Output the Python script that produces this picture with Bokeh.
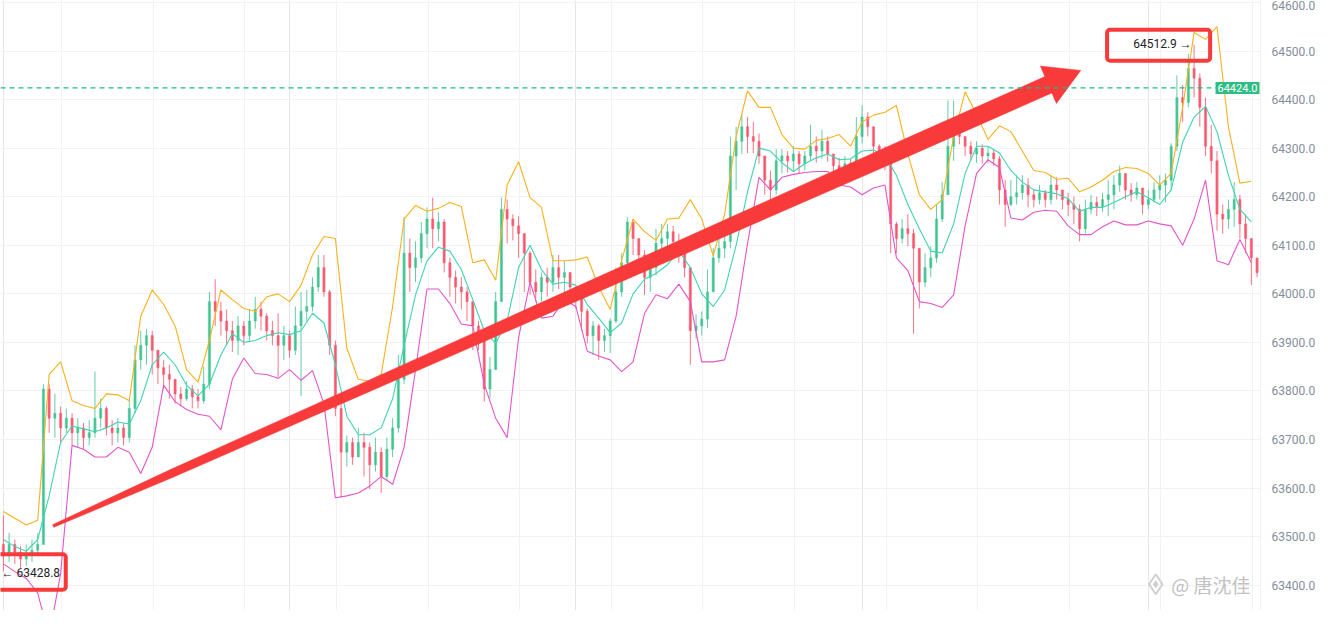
from math import hypot

from bokeh.plotting import figure
from bokeh.models import (ColumnDataSource, Range1d, FixedTicker, NumeralTickFormatter,
                          Span, Label, BoxAnnotation, Grid)
from bokeh.core.properties import value
from bokeh.embed import file_html
from bokeh.resources import INLINE

# candle closes / highs / lows (one candle per bar, opens are previous close)
first_open = 63484
closes = [
    63460, 63484, 63468, 63454, 63464, 63472, 63484, 63804, 63744, 63754,
    63724, 63744, 63714, 63724, 63704, 63714, 63744, 63764, 63724, 63714,
    63724, 63704, 63764, 63864, 63894, 63914, 63884, 63848, 63834, 63824,
    63794, 63784, 63804, 63788, 63780, 63814, 63984, 63964, 63944, 63924,
    63904, 63934, 63914, 63944, 63968, 63954, 63924, 63914, 63894, 63914,
    63884, 63934, 63964, 63974, 64014, 64054, 64004, 63894, 63764, 63674,
    63694, 63664, 63694, 63684, 63648, 63674, 63624, 63680, 63724, 63824,
    64084, 64054, 64074, 64124, 64154, 64134, 64148, 64064, 64034, 64014,
    64004, 63984, 63934, 63914, 63804, 63844, 63984, 64174, 64154, 64140,
    64124, 64084, 64024, 64004, 64034, 64024, 64054, 64034, 64044, 64014,
    63994, 63964, 63914, 63934, 63904, 63914, 63944, 64004, 64064, 64148,
    64114, 64080, 64034, 64054, 64104, 64114, 64128, 64108, 64094, 64054,
    63924, 63934, 63948, 64004, 64074, 64094, 64108, 64284, 64314, 64344,
    64324, 64314, 64284, 64234, 64214, 64274, 64284, 64274, 64288, 64268,
    64284, 64304, 64294, 64314, 64288, 64264, 64254, 64268, 64254, 64324,
    64364, 64344, 64304, 64288, 64274, 64144, 64114, 64134, 64124, 64094,
    64024, 64054, 64074, 64154, 64204, 64304, 64344, 64324, 64304, 64288,
    64300, 64284, 64290, 64278, 64214, 64184, 64200, 64208, 64224, 64204,
    64194, 64208, 64194, 64224, 64214, 64194, 64184, 64174, 64134, 64174,
    64188, 64180, 64194, 64204, 64224, 64248, 64214, 64204, 64218, 64184,
    64194, 64214, 64224, 64234, 64304, 64404, 64394, 64464, 64444, 64384,
    64304, 64274, 64164, 64154, 64174, 64194, 64144, 64114, 64074, 64044,
]
highs = [
    63544, 63508, 63494, 63480, 63484, 63494, 63508, 63814, 63814, 63794,
    63768, 63764, 63754, 63744, 63734, 63740, 63840, 63784, 63768, 63740,
    63744, 63734, 63784, 63894, 63924, 63928, 63924, 63880, 63864, 63854,
    63814, 63808, 63820, 63812, 63804, 63850, 64004, 64030, 63984, 63968,
    63944, 63954, 63944, 63968, 63994, 63984, 63960, 63944, 63960, 63934,
    63924, 63974, 64004, 64008, 64034, 64080, 64080, 64008, 63904, 63774,
    63708, 63704, 63724, 63714, 63694, 63704, 63684, 63704, 63744, 63874,
    64158, 64114, 64108, 64148, 64178, 64198, 64168, 64154, 64074, 64048,
    64034, 64014, 63960, 63944, 63854, 63870, 64004, 64198, 64194, 64164,
    64160, 64124, 64088, 64050, 64044, 64054, 64080, 64080, 64068, 64044,
    64014, 64004, 63970, 63944, 63938, 63928, 63950, 64054, 64084, 64158,
    64130, 64104, 64090, 64074, 64134, 64144, 64144, 64140, 64124, 64094,
    64030, 63958, 63964, 64050, 64094, 64118, 64124, 64324, 64344, 64370,
    64364, 64354, 64330, 64284, 64254, 64298, 64298, 64294, 64304, 64294,
    64294, 64348, 64324, 64338, 64324, 64284, 64280, 64284, 64278, 64364,
    64388, 64374, 64334, 64308, 64304, 64274, 64148, 64154, 64164, 64134,
    64094, 64084, 64098, 64184, 64230, 64398, 64398, 64348, 64324, 64314,
    64314, 64308, 64304, 64298, 64284, 64234, 64234, 64244, 64244, 64238,
    64214, 64224, 64214, 64244, 64240, 64214, 64208, 64200, 64184, 64194,
    64204, 64200, 64208, 64234, 64244, 64264, 64240, 64228, 64230, 64208,
    64214, 64230, 64244, 64248, 64310, 64450, 64430, 64494, 64512.9, 64454,
    64404, 64348, 64294, 64184, 64194, 64230, 64204, 64164, 64098, 64074,
]
lows = [
    63428.8, 63448, 63444, 63436, 63440, 63448, 63460, 63484, 63714, 63704,
    63694, 63714, 63688, 63684, 63680, 63688, 63704, 63724, 63708, 63688,
    63694, 63688, 63694, 63754, 63844, 63854, 63834, 63814, 63804, 63784,
    63774, 63768, 63780, 63764, 63764, 63774, 63804, 63934, 63914, 63894,
    63880, 63874, 63894, 63904, 63928, 63924, 63904, 63894, 63828, 63864,
    63868, 63874, 63790, 63944, 63964, 64004, 63994, 63874, 63748, 63580,
    63644, 63648, 63664, 63624, 63598, 63634, 63590, 63614, 63664, 63714,
    63814, 64004, 64024, 64064, 64094, 64094, 64108, 64044, 63994, 63980,
    63968, 63944, 63884, 63884, 63778, 63784, 63864, 63990, 64104, 64110,
    64074, 64004, 63998, 63984, 63984, 63994, 64004, 64010, 63998, 63994,
    63970, 63924, 63898, 63874, 63864, 63880, 63878, 63940, 63994, 64034,
    64080, 64054, 63998, 64004, 64038, 64080, 64090, 64084, 64064, 64034,
    63854, 63908, 63914, 63930, 64024, 64064, 64074, 64094, 64214, 64288,
    64290, 64290, 64268, 64204, 64190, 64204, 64248, 64250, 64254, 64248,
    64254, 64274, 64270, 64278, 64272, 64250, 64234, 64230, 64234, 64248,
    64310, 64324, 64288, 64264, 64254, 64084, 64084, 64104, 64098, 63918,
    63970, 64014, 64034, 64064, 64148, 64204, 64274, 64308, 64284, 64274,
    64270, 64268, 64268, 64264, 64184, 64138, 64180, 64184, 64194, 64178,
    64178, 64184, 64178, 64184, 64194, 64174, 64160, 64144, 64108, 64124,
    64164, 64160, 64168, 64160, 64174, 64210, 64194, 64190, 64194, 64164,
    64174, 64188, 64194, 64188, 64214, 64294, 64354, 64384, 64404, 64344,
    64284, 64248, 64130, 64124, 64134, 64138, 64114, 64084, 64018, 64034,
]

# Bollinger bands, read every second bar
upper = [
    63552, 63538, 63524, 63534, 63834, 63860, 63780, 63770, 63764, 63794,
    63792, 63780, 63954, 64008, 63978, 63934, 63844, 63818, 63904, 64008,
    63988, 63970, 63964, 63994, 64000, 63984, 64018, 64080, 64118, 64114,
    63888, 63824, 63820, 63834, 63974, 64154, 64182, 64170, 64176, 64188,
    64180, 64064, 64070, 64028, 64224, 64272, 64198, 64178, 64068, 64068,
    64070, 64076, 64014, 63968, 64068, 64154, 64128, 64110, 64154, 64156,
    64194, 64154, 64078, 64164, 64324, 64418, 64384, 64384, 64328, 64300,
    64298, 64316, 64320, 64328, 64304, 64354, 64368, 64374, 64388, 64288,
    64204, 64174, 64194, 64324, 64416, 64370, 64318, 64346, 64334, 64294,
    64254, 64250, 64236, 64238, 64210, 64220, 64234, 64252, 64260, 64258,
    64248, 64224, 64248, 64384, 64538, 64524, 64550, 64344, 64228, 64232,
]
middle = [
    63494, 63480, 63470, 63494, 63584, 63694, 63728, 63722, 63716, 63724,
    63736, 63732, 63780, 63854, 63880, 63854, 63812, 63790, 63814, 63874,
    63918, 63900, 63904, 63914, 63920, 63916, 63924, 63960, 63940, 63854,
    63748, 63710, 63710, 63724, 63784, 63894, 63998, 64068, 64096, 64088,
    64050, 63988, 63924, 63898, 63944, 64054, 64100, 64050, 64020, 64024,
    64018, 63978, 63950, 63920, 63940, 64000, 64030, 64042, 64060, 64088,
    64054, 64000, 63974, 64008, 64100, 64210, 64300, 64294, 64270, 64252,
    64268, 64280, 64288, 64276, 64278, 64294, 64296, 64284, 64244, 64184,
    64134, 64088, 64084, 64144, 64248, 64304, 64304, 64290, 64254, 64230,
    64214, 64210, 64206, 64196, 64170, 64178, 64178, 64188, 64200, 64210,
    64198, 64184, 64214, 64312, 64364, 64386, 64334, 64244, 64174, 64148,
]
lower = [
    63444, 63428, 63414, 63384, 63294, 63424, 63688, 63680, 63664, 63664,
    63684, 63674, 63630, 63684, 63812, 63778, 63762, 63752, 63748, 63720,
    63824, 63868, 63836, 63834, 63826, 63844, 63822, 63842, 63774, 63580,
    63584, 63590, 63604, 63624, 63608, 63684, 63844, 64010, 64010, 63980,
    63938, 63934, 63814, 63744, 63704, 63910, 64024, 63950, 63954, 63988,
    63974, 63882, 63872, 63864, 63840, 63860, 63960, 63998, 63990, 64020,
    63984, 63860, 63860, 63864, 63954, 64104, 64240, 64214, 64240, 64246,
    64250, 64252, 64252, 64224, 64220, 64204, 64218, 64224, 64074, 64048,
    63984, 63980, 63972, 63998, 64140, 64248, 64276, 64260, 64156, 64152,
    64168, 64172, 64170, 64140, 64122, 64122, 64138, 64150, 64142, 64142,
    64150, 64144, 64140, 64100, 64154, 64234, 64068, 64060, 64112, 64064,
]

last_price = 64424.0
price_ticks = list(range(63400, 64700, 100))

UP = "#2ebd85"
DOWN = "#f6465d"
RED = "#f83a3a"

n = len(closes)
xs = list(range(n))
opens = [first_open] + closes[:-1]
src = ColumnDataSource(data=dict(
    x=xs,
    top=[max(o, c) for o, c in zip(opens, closes)],
    bottom=[min(o, c) for o, c in zip(opens, closes)],
    high=[max(h, o, c) for h, o, c in zip(highs, opens, closes)],
    low=[min(l, o, c) for l, o, c in zip(lows, opens, closes)],
    color=[UP if c >= o else DOWN for o, c in zip(opens, closes)],
))
band_x = list(range(0, n, 2))

p = figure(width=1318, height=610, x_range=Range1d(-0.5, 219.6), y_range=Range1d(63348, 64604),
           x_axis_location=None, y_axis_location="right", tools="",
           toolbar_location=None, output_backend="svg", min_border=0)
p.outline_line_color = None
p.background_fill_color = "white"

# axis on the right
p.yaxis.ticker = FixedTicker(ticks=price_ticks)
p.yaxis.formatter = NumeralTickFormatter(format="0.0")
p.yaxis.major_label_text_color = "#848e9c"
p.yaxis.major_label_text_font = "Roboto"
p.yaxis.major_label_text_font_size = "12px"
p.yaxis.major_tick_line_color = None
p.yaxis.minor_tick_line_color = None
p.yaxis.axis_line_color = "#eeeeee"
p.ygrid.grid_line_color = "#f1f2f4"
p.add_layout(Grid(dimension=0, ticker=FixedTicker(ticks=[10.2 + 16 * k for k in range(14)]),
                  grid_line_color="#f1f2f4"))

# candles
p.segment(x0="x", y0="low", x1="x", y1="high", line_color="color", line_alpha=0.75,
          line_width=1, source=src)
p.vbar(x="x", width=0.4, top="top", bottom="bottom", fill_color="color", line_color="color",
       fill_alpha=0.75, line_alpha=0.75, line_width=0.5, source=src)

# bands
p.line(band_x, upper, line_color="#f7b21c", line_width=1.1)
p.line(band_x, middle, line_color="#3fd3b3", line_width=1.1)
p.line(band_x, lower, line_color="#e455c9", line_width=1.1)

# last price line and its badge at the right edge
p.add_layout(Span(location=last_price, dimension="width", line_color="#1fb985",
                  line_dash="5 4", line_width=1.2))
p.add_layout(Label(x=219.6, y=last_price, x_offset=-1, text=f"{last_price:.1f}",
                   text_color="white", text_font_size="11px", text_font="Roboto",
                   text_align="right", text_baseline="middle",
                   background_fill_color="#2ebd85", padding=2))

# big tapered arrow (drawn in screen-like proportions: 6px per bar, 0.5px per price unit)
arrow_start = (8.7, 63522)
arrow_tip = (188.2, 64460)
sx, sy = 6.0, 0.5
x0, y0 = arrow_start[0] * sx, arrow_start[1] * sy
x1, y1 = arrow_tip[0] * sx, arrow_tip[1] * sy
length = hypot(x1 - x0, y1 - y0)
ux, uy = (x1 - x0) / length, (y1 - y0) / length
nx, ny = -uy, ux
head_len, head_half = 37.0, 21.0
shaft = length - head_len
taper = [(0.0, 1.5), (0.12, 4.2), (0.47, 6.5), (0.85, 9.0), (1.0, 9.2)]
side_a = [(x0 + ux * t * shaft + nx * w, y0 + uy * t * shaft + ny * w) for t, w in taper]
side_b = [(x0 + ux * t * shaft - nx * w, y0 + uy * t * shaft - ny * w) for t, w in taper]
bx, by = x0 + ux * shaft, y0 + uy * shaft
head = [(bx + nx * head_half, by + ny * head_half), (x1, y1),
        (bx - nx * head_half, by - ny * head_half)]
poly = side_a + head + side_b[::-1]
p.patch([q[0] / sx for q in poly], [q[1] / sy for q in poly], fill_color=RED, line_color=RED,
        line_width=0.5)

# high / low markers
hi_i = max(range(n), key=lambda i: highs[i])
lo_i = min(range(n), key=lambda i: lows[i])
p.text(x=[hi_i - 0.4], y=[highs[hi_i] + 2], text=[f"{highs[hi_i]:.1f} →"], text_align="right",
       text_baseline="middle", text_font=value("Roboto"), text_font_size="12px",
       text_color="#1e2329")
p.text(x=[lo_i - 0.5], y=[lows[lo_i] - 3], x_offset=1, text=[f"← {lows[lo_i]:.1f}"],
       text_align="left", text_baseline="middle", text_font=value("Roboto"),
       text_font_size="12px", text_color="#1e2329")
p.add_layout(BoxAnnotation(left=hi_i - 15.2, right=hi_i + 2.8, top=highs[hi_i] + 31,
                           bottom=highs[hi_i] - 33, fill_alpha=0, line_color=RED,
                           line_alpha=1.0, line_width=4, border_radius=3))
p.add_layout(BoxAnnotation(left=lo_i - 2.6, right=lo_i + 10.9, top=lows[lo_i] + 35,
                           bottom=lows[lo_i] - 38, fill_alpha=0, line_color=RED,
                           line_alpha=1.0, line_width=4, border_radius=3))

# watermark
p.scatter([201.3], [63402], marker="diamond", size=20, fill_color=None,
          line_color="#d0d0d0", line_width=2)
p.scatter([201.3], [63402], marker="diamond", size=7, fill_color="#d0d0d0",
          line_color="#d0d0d0")
p.text(x=[204.0], y=[63402], text=["@ 唐沈佳"], text_align="left", text_baseline="middle",
       text_font=value("Noto Sans CJK SC"), text_font_size="19px", text_color="#c2c2c2")

open("out.html", "w").write(file_html(p, INLINE))
